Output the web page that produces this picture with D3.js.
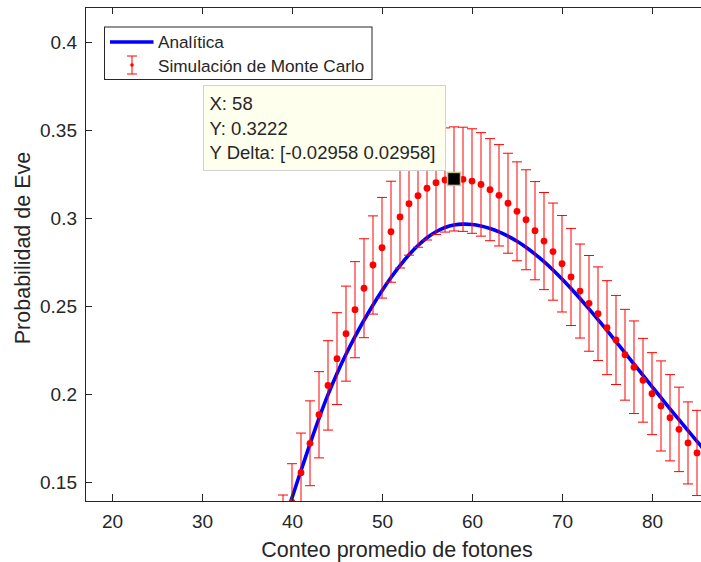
<!DOCTYPE html>
<html>
<head>
<meta charset="utf-8">
<script src="https://cdn.jsdelivr.net/npm/d3@7"></script>
<style>
  body { margin: 0; background: #fff; }
  svg { display: block; font-family: Arial, 'Liberation Sans', Helvetica, sans-serif; }
</style>
</head>
<body>
<div id="chart"></div>
<script>
'use strict'

// Monte Carlo simulation (mean + half width of the error bar)
const photons = [39, 40, 41, 42, 43, 44, 45, 46, 47, 48, 49, 50, 51, 52, 53, 54, 55, 56, 57, 58, 59, 60, 61, 62,
  63, 64, 65, 66, 67, 68, 69, 70, 71, 72, 73, 74, 75, 76, 77, 78, 79, 80, 81, 82, 83, 84, 85];
const monteCarlo = [0.1220, 0.1385, 0.1553, 0.1720, 0.1882, 0.2049, 0.2201, 0.2343, 0.2479, 0.2601, 0.2733, 0.2831,
  0.2922, 0.3006, 0.3081, 0.3127, 0.3169, 0.3201, 0.3216, 0.3222, 0.3220, 0.3210, 0.3191, 0.3161, 0.3129, 0.3084,
  0.3038, 0.2990, 0.2928, 0.2869, 0.2809, 0.2740, 0.2665, 0.2585, 0.2515, 0.2456, 0.2377, 0.2307, 0.2223, 0.2152,
  0.2078, 0.2002, 0.1932, 0.1865, 0.1799, 0.1722, 0.1665];
const monteCarloDelta = [0.0206, 0.0219, 0.0225, 0.0241, 0.0245, 0.0254, 0.0261, 0.0270, 0.0273, 0.0281, 0.0279,
  0.0286, 0.0287, 0.0290, 0.0292, 0.0293, 0.0294, 0.0295, 0.0296, 0.02958, 0.0296, 0.0297, 0.0294, 0.0290, 0.0288,
  0.0284, 0.0281, 0.0284, 0.0279, 0.0276, 0.0276, 0.0274, 0.0276, 0.0267, 0.0272, 0.0266, 0.0267, 0.0253, 0.0258,
  0.0263, 0.0238, 0.0233, 0.0256, 0.0245, 0.0240, 0.0233, 0.0242];

// analytic curve
const analyticX = [39, 40, 41, 42, 43, 44, 45, 46, 47, 48, 49, 50, 51, 52, 53, 54, 55, 56, 57, 58, 59, 60, 61, 62,
  63, 64, 65, 66, 67, 68, 69, 70, 71, 72, 73, 74, 75, 76, 77, 78, 79, 80, 81, 82, 83, 84, 85, 86];
const analytic = [0.1255, 0.1410, 0.1565, 0.1717, 0.1862, 0.1996, 0.2117, 0.2226, 0.2326, 0.2419, 0.2506, 0.2587,
  0.2662, 0.2730, 0.2791, 0.2844, 0.2888, 0.2922, 0.2946, 0.2960, 0.2965, 0.2963, 0.2954, 0.2940, 0.2921, 0.2897,
  0.2868, 0.2834, 0.2795, 0.2752, 0.2705, 0.2654, 0.2600, 0.2543, 0.2484, 0.2423, 0.2361, 0.2298, 0.2234, 0.2170,
  0.2106, 0.2042, 0.1979, 0.1916, 0.1854, 0.1792, 0.1731, 0.1670];

const xTicks = [20, 30, 40, 50, 60, 70, 80];
const yTicks = [0.15, 0.2, 0.25, 0.3, 0.35, 0.4];
const legendLabels = ['Analítica', 'Simulación de Monte Carlo'];
const tipPhoton = 58;

const width = 701;
const height = 562;
const ink = '#262626';
const blue = '#0000ff';
const red = '#ff0000';

// axes box (right edge falls outside the picture)
const plotLeft = 85, plotRight = 708.7, plotTop = 7, plotBottom = 501;
const xLim = [17, 86.3];
const yLim = [0.1392, 0.4199];

const x = d3.scaleLinear().domain(xLim).range([plotLeft, plotRight]);
const y = d3.scaleLinear().domain(yLim).range([plotBottom, plotTop]);

const svg = d3.select('#chart').append('svg')
  .attr('width', width)
  .attr('height', height)
  .attr('viewBox', `0 0 ${width} ${height}`);

svg.append('rect').attr('width', width).attr('height', height).attr('fill', '#fff');

svg.append('defs').append('clipPath').attr('id', 'plot-clip')
  .append('rect')
  .attr('x', plotLeft).attr('y', plotTop)
  .attr('width', plotRight - plotLeft).attr('height', plotBottom - plotTop);

const plot = svg.append('g').attr('clip-path', 'url(#plot-clip)');

// analytic line
const line = d3.line()
  .x((d, i) => x(analyticX[i]))
  .y(d => y(d))
  .curve(d3.curveCatmullRom);

plot.append('path')
  .attr('d', line(analytic))
  .attr('fill', 'none')
  .attr('stroke', blue)
  .attr('stroke-width', 3.6)
  .attr('stroke-linejoin', 'round');

// error bars
const capHalf = 5;
const bars = plot.selectAll('g.bar')
  .data(photons)
  .join('g')
  .attr('class', 'bar');

bars.append('line')
  .attr('x1', d => x(d)).attr('x2', d => x(d))
  .attr('y1', (d, i) => y(monteCarlo[i] - monteCarloDelta[i]))
  .attr('y2', (d, i) => y(monteCarlo[i] + monteCarloDelta[i]))
  .attr('stroke', red).attr('stroke-width', 1);

bars.append('line')
  .attr('x1', d => x(d) - capHalf).attr('x2', d => x(d) + capHalf)
  .attr('y1', (d, i) => y(monteCarlo[i] + monteCarloDelta[i]))
  .attr('y2', (d, i) => y(monteCarlo[i] + monteCarloDelta[i]))
  .attr('stroke', red).attr('stroke-width', 1);

bars.append('line')
  .attr('x1', d => x(d) - capHalf).attr('x2', d => x(d) + capHalf)
  .attr('y1', (d, i) => y(monteCarlo[i] - monteCarloDelta[i]))
  .attr('y2', (d, i) => y(monteCarlo[i] - monteCarloDelta[i]))
  .attr('stroke', red).attr('stroke-width', 1);

bars.append('circle')
  .attr('cx', d => x(d))
  .attr('cy', (d, i) => y(monteCarlo[i]))
  .attr('r', 3.4)
  .attr('fill', red);

// axes
const styleAxis = g => {
  g.attr('font-size', null).attr('font-family', null);
  g.select('.domain').remove();
  g.selectAll('line').attr('stroke', ink).attr('shape-rendering', 'crispEdges');
  g.selectAll('text').attr('fill', ink).style('font-size', '19px');
};

svg.append('g')
  .attr('transform', `translate(0,${plotBottom})`)
  .call(d3.axisBottom(x).tickValues(xTicks).tickSizeInner(-7).tickSizeOuter(0).tickPadding(14))
  .call(styleAxis);

svg.append('g')
  .attr('transform', `translate(0,${plotTop})`)
  .call(d3.axisTop(x).tickValues(xTicks).tickSizeInner(-7).tickSizeOuter(0).tickFormat(''))
  .call(styleAxis);

svg.append('g')
  .attr('transform', `translate(${plotLeft},0)`)
  .call(d3.axisLeft(y).tickValues(yTicks).tickSizeInner(-7).tickSizeOuter(0).tickPadding(8)
    .tickFormat(d => String(+d.toFixed(2))))
  .call(styleAxis);

svg.append('rect')
  .attr('x', plotLeft + 0.5).attr('y', plotTop + 0.5)
  .attr('width', plotRight - plotLeft).attr('height', plotBottom - plotTop)
  .attr('fill', 'none')
  .attr('stroke', ink)
  .attr('stroke-width', 1)
  .attr('shape-rendering', 'crispEdges');

// axis labels
svg.append('text')
  .attr('x', 397).attr('y', 557)
  .attr('text-anchor', 'middle')
  .attr('fill', ink)
  .style('font-size', '21.5px')
  .text('Conteo promedio de fotones');

svg.append('text')
  .attr('transform', 'translate(30,248) rotate(-90)')
  .attr('text-anchor', 'middle')
  .attr('fill', ink)
  .style('font-size', '21.5px')
  .text('Probabilidad de Eve');

// legend
const legend = svg.append('g').attr('transform', 'translate(104.5,27)');

legend.append('rect')
  .attr('width', 267.5).attr('height', 52.5)
  .attr('fill', '#fff')
  .attr('stroke', ink)
  .attr('stroke-width', 1);

legend.append('line')
  .attr('x1', 5.5).attr('x2', 49).attr('y1', 15).attr('y2', 15)
  .attr('stroke', blue).attr('stroke-width', 3.6);

legend.append('line')
  .attr('x1', 27.5).attr('x2', 27.5).attr('y1', 29).attr('y2', 47)
  .attr('stroke', red).attr('stroke-width', 1);
legend.selectAll('line.cap')
  .data([29, 47])
  .join('line')
  .attr('class', 'cap')
  .attr('x1', 22.5).attr('x2', 32.5)
  .attr('y1', d => d).attr('y2', d => d)
  .attr('stroke', red).attr('stroke-width', 1);
legend.append('circle')
  .attr('cx', 27.5).attr('cy', 38).attr('r', 1.8).attr('fill', red);

legend.selectAll('text')
  .data(legendLabels)
  .join('text')
  .attr('x', 53.5)
  .attr('y', (d, i) => 15 + i * 23.5)
  .attr('dy', '0.35em')
  .attr('fill', ink)
  .style('font-size', '17.2px')
  .text(d => d);

// data tip
const tipI = photons.indexOf(tipPhoton);
const tipY = monteCarlo[tipI];
const tipDelta = monteCarloDelta[tipI];

svg.append('rect')
  .attr('x', x(tipPhoton) - 6.5).attr('y', y(tipY) - 6.5)
  .attr('width', 13).attr('height', 13)
  .attr('fill', '#000')
  .attr('stroke', '#cdbf95')
  .attr('stroke-width', 1.5);

const tip = svg.append('g').attr('transform', 'translate(203.5,85.5)');

tip.append('rect')
  .attr('width', 242).attr('height', 85)
  .attr('fill', '#ffffee')
  .attr('stroke', '#d2d2d2')
  .attr('stroke-width', 1);

const tipLines = [
  `X: ${tipPhoton}`,
  `Y: ${tipY}`,
  `Y Delta: [-${tipDelta} ${tipDelta}]`
];

tip.selectAll('text')
  .data(tipLines)
  .join('text')
  .attr('x', 6)
  .attr('y', (d, i) => 24.5 + i * 24.7)
  .attr('fill', ink)
  .style('font-size', '18.5px')
  .text(d => d);
</script>
</body>
</html>
